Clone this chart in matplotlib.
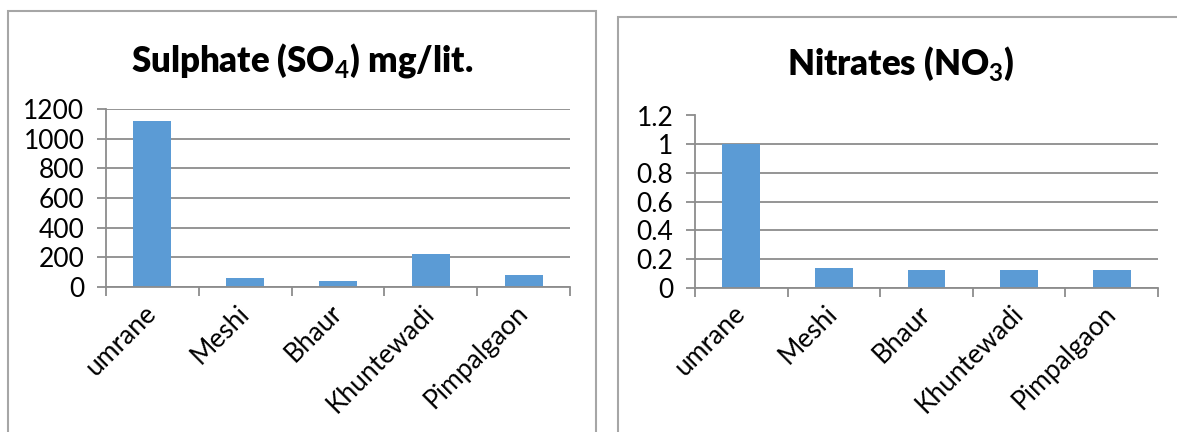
import matplotlib.pyplot as plt
from matplotlib.patches import Rectangle
import numpy as np

# ======== Data ========
sites = ["umrane", "Meshi", "Bhaur", "Khuntewadi", "Pimpalgaon"]
sulphate = [1120, 60, 38, 220, 82]
nitrates = [1.0, 0.135, 0.125, 0.125, 0.125]
sulphate_ticks = [0, 200, 400, 600, 800, 1000, 1200]
nitrate_ticks = [0, 0.2, 0.4, 0.6, 0.8, 1, 1.2]
nitrate_labels = ["0", "0.2", "0.4", "0.6", "0.8", "1", "1.2"]

BAR = "#5B9BD5"
GRID = "#8c8c8c"
FONT = "Lato"

plt.rcParams['font.family'] = FONT
plt.rcParams['mathtext.fontset'] = 'custom'
plt.rcParams['mathtext.rm'] = FONT
plt.rcParams['mathtext.bf'] = FONT + ':bold'

W, H = 1177, 432
fig = plt.figure(figsize=(W / 100, H / 100), dpi=100)


def px_axes(x0, x1, ytop, ybot):
    return fig.add_axes([x0 / W, 1 - ybot / H, (x1 - x0) / W, (ybot - ytop) / H])


def style(ax, values, ticks, labels):
    x = np.arange(len(sites))
    ax.bar(x, values, width=0.41, color=BAR, zorder=3)
    ax.set_xlim(-0.5, len(sites) - 0.5)
    ax.set_ylim(ticks[0], ticks[-1])
    ax.set_yticks(ticks)
    ax.set_yticklabels(labels)
    ax.yaxis.grid(True, color=GRID, lw=1.3, zorder=0)
    ax.set_xticks(x)
    ax.set_xticklabels(sites, rotation=45, ha='right', va='center',
                       rotation_mode='anchor')
    ax.set_xticks(np.arange(-0.5, len(sites)), minor=True)
    ax.tick_params(axis='x', which='major', length=0, pad=16, labelsize=19)
    ax.tick_params(axis='x', which='minor', length=6.5, width=1.3,
                   color=GRID, direction='out')
    ax.tick_params(axis='y', length=6.5, width=1.3, color=GRID,
                   direction='out', pad=9, labelsize=19)
    for s in ['top', 'right']:
        ax.spines[s].set_visible(False)
    for s in ['left', 'bottom']:
        ax.spines[s].set_color(GRID)
        ax.spines[s].set_linewidth(1.3)
        ax.spines[s].set_zorder(4)
    ax.set_axisbelow(False)


# panel frames
for x0, y0, w in [(8, 11, 588), (618, 17, 600)]:
    fig.patches.append(Rectangle((x0 / W, -0.1), w / W, 1.1 - y0 / H,
                                 transform=fig.transFigure, fill=False,
                                 edgecolor="#a6a6a6", lw=1.5))

ax1 = px_axes(106, 570, 109, 287)
style(ax1, sulphate, sulphate_ticks, [str(t) for t in sulphate_ticks])
fig.text(302 / W, 1 - 60 / H, r"Sulphate (SO$_\mathbf{4}$) mg/lit.",
         ha='center', va='center', fontsize=25, fontweight='heavy')

ax2 = px_axes(695, 1158, 115.5, 287.5)
style(ax2, nitrates, nitrate_ticks, nitrate_labels)
fig.text(901 / W, 1 - 64 / H, r"Nitrates (NO$_\mathbf{3}$)",
         ha='center', va='center', fontsize=25, fontweight='heavy')

fig.savefig("out.png", dpi=100)
